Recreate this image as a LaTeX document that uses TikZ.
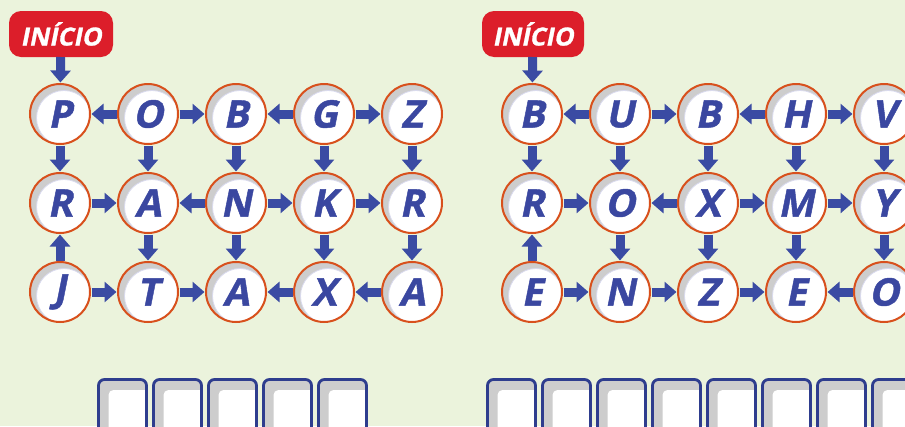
\documentclass[tikz,border=0pt]{standalone}
\usepackage{fontspec}
\setmainfont{Open Sans}
\newfontfamily\heavyfont[BoldFeatures={FakeBold=1.2, FakeSlant=0.2}]{Open Sans}
\usetikzlibrary{arrows.meta}
\definecolor{bg}{HTML}{EBF3DC}
\definecolor{startred}{HTML}{DC1E2A}
\definecolor{arrowblue}{HTML}{3A4BA3}
\definecolor{letterblue}{HTML}{3A47A0}
\definecolor{ring}{HTML}{D8501C}
\definecolor{shade}{HTML}{CDCDCD}
\definecolor{rim}{HTML}{D9DAEE}
\definecolor{boxblue}{HTML}{2E3D8E}
\tikzset{
  letter/.style={circle, minimum size=60pt, inner sep=0pt, outer sep=0pt,
    fill=shade, draw=ring, line width=2pt,
    font=\heavyfont\fontsize{38}{38}\selectfont\bfseries, text=letterblue,
    path picture={\fill[white, draw=rim, line width=0.8pt]
      ([xshift=4pt,yshift=-4pt]path picture bounding box.center) circle (27.5pt);}},
  startbox/.style={rectangle, rounded corners=12pt, fill=startred,
    minimum width=104pt, minimum height=46pt, inner sep=0pt, outer sep=0pt,
    text=white, font=\heavyfont\fontsize{25}{25}\selectfont\bfseries},
  blk/.style={draw=arrowblue, line width=9pt,
    -{Triangle[width=20pt,length=12pt]}, shorten >=1.5pt, shorten <=1.5pt},
  ansbox/.style={rectangle, rounded corners=6pt, fill=shade, draw=boxblue,
    line width=2.8pt, minimum width=48pt, minimum height=70pt, anchor=north west,
    inner sep=0pt, outer sep=0pt,
    path picture={\fill[white, rounded corners=5pt]
      ([xshift=10pt,yshift=-10.5pt]path picture bounding box.north west)
      rectangle ([xshift=10pt,yshift=-10pt]path picture bounding box.south east);}}
}
\begin{document}
\begin{tikzpicture}[x=1pt,y=-1pt]
\useasboundingbox (0,0) rectangle (905,426);
\clip (0,0) rectangle (905,426);
\fill[bg] (0,0) rectangle (905,426);

% start labels
\node[startbox] (LS) at (61,34) {INÍCIO};
\node[startbox, minimum width=102pt] (RS) at (533,34) {INÍCIO};

% left grid
\foreach \l [count=\c] in {P,O,B,G,Z} \node[letter] (L1\c) at ({60+88*(\c-1)},114) {\l};
\foreach \l [count=\c] in {R,A,N,K,R} \node[letter] (L2\c) at ({60+88*(\c-1)},203) {\l};
\foreach \l [count=\c] in {J,T,A,X,A} \node[letter] (L3\c) at ({60+88*(\c-1)},292) {\l};

% right grid
\foreach \l [count=\c] in {B,U,B,H,V} \node[letter] (R1\c) at ({532+88*(\c-1)},114) {\l};
\foreach \l [count=\c] in {R,O,X,M,Y} \node[letter] (R2\c) at ({532+88*(\c-1)},203) {\l};
\foreach \l [count=\c] in {E,N,Z,E,O} \node[letter] (R3\c) at ({532+88*(\c-1)},292) {\l};

% start arrows
\draw[blk, shorten <=0pt] (LS) -- (L11);
\draw[blk, shorten <=0pt] (RS) -- (R11);

% left arrows
\draw[blk] (L12) -- (L11);
\draw[blk] (L12) -- (L13);
\draw[blk] (L14) -- (L13);
\draw[blk] (L14) -- (L15);
\foreach \c in {1,...,5} \draw[blk] (L1\c) -- (L2\c);
\draw[blk] (L21) -- (L22);
\draw[blk] (L23) -- (L22);
\draw[blk] (L23) -- (L24);
\draw[blk] (L24) -- (L25);
\draw[blk] (L31) -- (L21);
\foreach \c in {2,...,5} \draw[blk] (L2\c) -- (L3\c);
\draw[blk] (L31) -- (L32);
\draw[blk] (L32) -- (L33);
\draw[blk] (L34) -- (L33);
\draw[blk] (L35) -- (L34);

% right arrows
\draw[blk] (R12) -- (R11);
\draw[blk] (R12) -- (R13);
\draw[blk] (R14) -- (R13);
\draw[blk] (R14) -- (R15);
\foreach \c in {1,...,5} \draw[blk] (R1\c) -- (R2\c);
\draw[blk] (R21) -- (R22);
\draw[blk] (R23) -- (R22);
\draw[blk] (R23) -- (R24);
\draw[blk] (R24) -- (R25);
\draw[blk] (R31) -- (R21);
\foreach \c in {2,...,5} \draw[blk] (R2\c) -- (R3\c);
\draw[blk] (R31) -- (R32);
\draw[blk] (R32) -- (R33);
\draw[blk] (R33) -- (R34);
\draw[blk] (R35) -- (R34);

% answer boxes
\foreach \k in {0,...,4} \node[ansbox] (LB\k) at ({98.5+55*\k},379.5) {};
\foreach \k in {0,...,7} \node[ansbox] (RB\k) at ({487.5+55*\k},379.5) {};
\end{tikzpicture}
\end{document}
